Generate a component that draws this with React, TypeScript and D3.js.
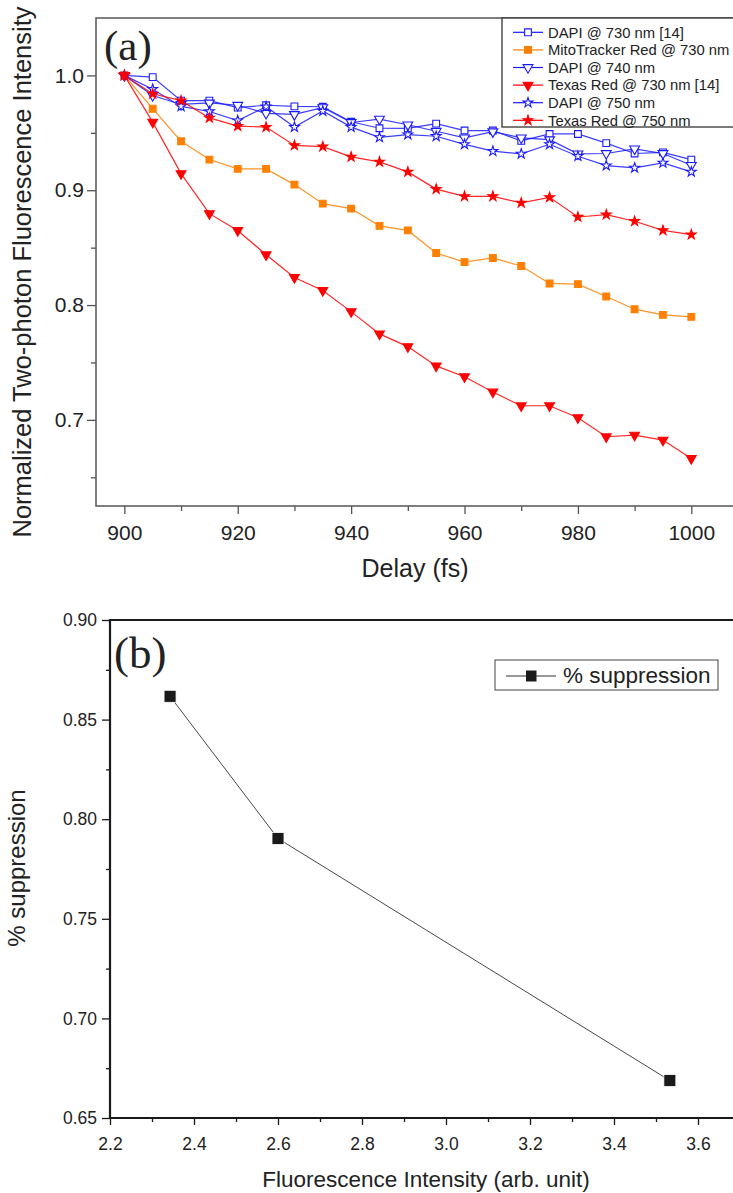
import React, { useEffect, useRef } from "react";
import * as d3 from "d3";

const WIDTH = 733;
const HEIGHT = 1193;
const SANS = "'Liberation Sans', Arial, Helvetica, sans-serif";
const SERIF = "'Liberation Serif', 'Times New Roman', serif";

// panel (a): delay in fs
const delays = [900, 905, 910, 915, 920, 925, 930, 935, 940, 945, 950, 955, 960, 965, 970, 975, 980, 985, 990, 995, 1000];
const dapi730 = [1.0, 0.9985, 0.978, 0.978, 0.972, 0.974, 0.973, 0.9727, 0.9596, 0.954, 0.9538, 0.958, 0.952, 0.952, 0.943, 0.949, 0.949, 0.941, 0.932, 0.933, 0.9267];
const mito730 = [1.0, 0.971, 0.9427, 0.9267, 0.9186, 0.9186, 0.9049, 0.8883, 0.884, 0.869, 0.865, 0.8453, 0.8374, 0.841, 0.834, 0.8188, 0.8182, 0.8075, 0.7964, 0.7914, 0.7897];
const dapi740 = [1.0, 0.9825, 0.9747, 0.976, 0.974, 0.967, 0.966, 0.972, 0.959, 0.962, 0.957, 0.9514, 0.9456, 0.951, 0.9456, 0.944, 0.9317, 0.932, 0.936, 0.932, 0.9217];
const texas730 = [1.0, 0.9593, 0.9145, 0.8796, 0.865, 0.8438, 0.824, 0.8127, 0.7943, 0.7749, 0.7638, 0.747, 0.7376, 0.7243, 0.7123, 0.7123, 0.7019, 0.6853, 0.6867, 0.6824, 0.6664];
const dapi750 = [1.0, 0.988, 0.973, 0.9686, 0.9607, 0.9727, 0.955, 0.969, 0.955, 0.946, 0.9485, 0.947, 0.94, 0.934, 0.9317, 0.94, 0.9296, 0.9215, 0.9195, 0.9238, 0.916];
const texas750 = [1.0, 0.984, 0.978, 0.963, 0.9558, 0.955, 0.939, 0.938, 0.929, 0.9247, 0.916, 0.901, 0.8947, 0.8947, 0.889, 0.8938, 0.8767, 0.8787, 0.873, 0.865, 0.8613];

const seriesNames = [
  "DAPI @ 730 nm [14]",
  "MitoTracker Red @ 730 nm",
  "DAPI @ 740 nm",
  "Texas Red @ 730 nm [14]",
  "DAPI @ 750 nm",
  "Texas Red @ 750 nm",
];
const seriesValues = [dapi730, mito730, dapi740, texas730, dapi750, texas750];
const seriesColors = ["#1a1aff", "#ff8000", "#1a1aff", "#ff0000", "#1a1aff", "#ff0000"];
const seriesShapes = ["square", "square", "triangle", "triangle", "star", "star"];
const seriesFilled = [false, true, false, true, false, true];

const topXMajor = [900, 920, 940, 960, 980, 1000];
const topXMinor = [910, 930, 950, 970, 990];
const topYMajor = [0.7, 0.8, 0.9, 1.0];
const topYMinor = [0.65, 0.75, 0.85, 0.95];

// panel (b)
const intensity = [2.343, 2.6, 3.533];
const suppression = [0.8617, 0.7903, 0.6688];
const botXMajor = [2.2, 2.4, 2.6, 2.8, 3.0, 3.2, 3.4, 3.6];
const botXMinor = [2.3, 2.5, 2.7, 2.9, 3.1, 3.3, 3.5];
const botYMajor = [0.65, 0.7, 0.75, 0.8, 0.85, 0.9];
const botYMinor = [0.675, 0.725, 0.775, 0.825, 0.875];

const TOP = { LEFT: 96, RIGHT: 748, TOP: 18, BOTTOM: 506 };
const BOT = { LEFT: 110, RIGHT: 740, TOP: 620, BOTTOM: 1118 };

const shapePath = (shape, size) => {
  const type = shape === "square" ? d3.symbolSquare : shape === "triangle" ? d3.symbolTriangle : d3.symbolStar;
  return d3.symbol(type, size)();
};
const shapeSize = { square: 46, triangle: 42, star: 30 };

const styleAxis = (g, fontSize, color) => {
  g.select(".domain").remove();
  g.selectAll("line").attr("stroke", color).attr("stroke-width", 1.3);
  g.selectAll("text").attr("fill", "#222").attr("font-size", fontSize).attr("font-family", SANS);
};

const App = () => {
  const svgRef = useRef(null);

  useEffect(() => {
    const svg = d3.select(svgRef.current);
    svg.selectAll("*").remove();

    // ---------- panel (a) ----------
    const xTop = d3.scaleLinear().domain([895, 1010]).range([TOP.LEFT, TOP.RIGHT]);
    const yTop = d3.scaleLinear().domain([0.625, 1.05]).range([TOP.BOTTOM, TOP.TOP]);
    const axisGray = "#555";

    const gx = svg.append("g").attr("transform", `translate(0,${TOP.BOTTOM})`);
    gx.call(d3.axisBottom(xTop).tickValues(topXMajor).tickSize(8).tickPadding(11).tickFormat(d3.format("d")));
    styleAxis(gx, 21, axisGray);
    const gxm = svg.append("g").attr("transform", `translate(0,${TOP.BOTTOM})`);
    gxm.call(d3.axisBottom(xTop).tickValues(topXMinor).tickSize(5).tickFormat(() => ""));
    styleAxis(gxm, 21, axisGray);

    const gy = svg.append("g").attr("transform", `translate(${TOP.LEFT},0)`);
    gy.call(d3.axisLeft(yTop).tickValues(topYMajor).tickSize(9).tickPadding(3).tickFormat(d3.format(".1f")));
    styleAxis(gy, 21, axisGray);
    const gym = svg.append("g").attr("transform", `translate(${TOP.LEFT},0)`);
    gym.call(d3.axisLeft(yTop).tickValues(topYMinor).tickSize(5).tickFormat(() => ""));
    styleAxis(gym, 21, axisGray);

    svg
      .append("path")
      .attr("d", `M${WIDTH},${TOP.TOP}H${TOP.LEFT}V${TOP.BOTTOM}H${WIDTH}`)
      .attr("fill", "none")
      .attr("stroke", axisGray)
      .attr("stroke-width", 1.5);

    const line = d3
      .line()
      .x((d) => xTop(d[0]))
      .y((d) => yTop(d[1]));

    seriesValues.forEach((values, i) => {
      const pts = values.map((v, j) => [delays[j], v]);
      const g = svg.append("g");
      g.append("path")
        .attr("d", line(pts))
        .attr("fill", "none")
        .attr("stroke", seriesColors[i])
        .attr("stroke-opacity", 0.85)
        .attr("stroke-width", 1.2);
      g.selectAll("path.mk")
        .data(pts)
        .join("path")
        .attr("class", "mk")
        .attr("d", shapePath(seriesShapes[i], shapeSize[seriesShapes[i]]))
        .attr(
          "transform",
          (d) => `translate(${xTop(d[0])},${yTop(d[1])})${seriesShapes[i] === "triangle" ? " rotate(180)" : ""}`
        )
        .attr("fill", seriesFilled[i] ? seriesColors[i] : "#fff")
        .attr("stroke", seriesColors[i])
        .attr("stroke-width", 1.1);
    });

    // legend (a)
    svg
      .append("rect")
      .attr("x", 502)
      .attr("y", TOP.TOP)
      .attr("width", 260)
      .attr("height", 109)
      .attr("fill", "#fff")
      .attr("stroke", "#333")
      .attr("stroke-width", 1.3);
    seriesNames.forEach((name, i) => {
      const cy = 32.3 + i * 17.6;
      const lg = svg.append("g");
      lg.append("line")
        .attr("x1", 513)
        .attr("x2", 543)
        .attr("y1", cy)
        .attr("y2", cy)
        .attr("stroke", seriesColors[i])
        .attr("stroke-width", 1.2);
      lg.append("path")
        .attr("d", shapePath(seriesShapes[i], shapeSize[seriesShapes[i]]))
        .attr("transform", `translate(528,${cy})${seriesShapes[i] === "triangle" ? " rotate(180)" : ""}`)
        .attr("fill", seriesFilled[i] ? seriesColors[i] : "#fff")
        .attr("stroke", seriesColors[i])
        .attr("stroke-width", 1.1);
      lg.append("text")
        .attr("x", 548)
        .attr("y", cy + 5.3)
        .attr("font-family", SANS)
        .attr("font-size", 14.8)
        .attr("fill", "#222")
        .text(name);
    });

    svg
      .append("text")
      .attr("x", 104)
      .attr("y", 60)
      .attr("font-family", SERIF)
      .attr("font-size", 43)
      .attr("fill", "#222")
      .text("(a)");

    svg
      .append("text")
      .attr("transform", "translate(31,272) rotate(-90)")
      .attr("text-anchor", "middle")
      .attr("font-family", SANS)
      .attr("font-size", 25.5)
      .attr("fill", "#222")
      .text("Normalized Two-photon Fluorescence Intensity");

    svg
      .append("text")
      .attr("x", 415)
      .attr("y", 577)
      .attr("text-anchor", "middle")
      .attr("font-family", SANS)
      .attr("font-size", 25)
      .attr("fill", "#222")
      .text("Delay (fs)");

    // ---------- panel (b) ----------
    const xBot = d3.scaleLinear().domain([2.2, 3.7]).range([BOT.LEFT, BOT.RIGHT]);
    const yBot = d3.scaleLinear().domain([0.65, 0.9]).range([BOT.BOTTOM, BOT.TOP]);
    const axisDark = "#1a1a1a";

    const bx = svg.append("g").attr("transform", `translate(0,${BOT.BOTTOM})`);
    bx.call(d3.axisBottom(xBot).tickValues(botXMajor).tickSize(7).tickPadding(13).tickFormat(d3.format(".1f")));
    styleAxis(bx, 17.5, axisDark);
    const bxm = svg.append("g").attr("transform", `translate(0,${BOT.BOTTOM})`);
    bxm.call(d3.axisBottom(xBot).tickValues(botXMinor).tickSize(4).tickFormat(() => ""));
    styleAxis(bxm, 17.5, axisDark);

    const by = svg.append("g").attr("transform", `translate(${BOT.LEFT},0)`);
    by.call(d3.axisLeft(yBot).tickValues(botYMajor).tickSize(8).tickPadding(5).tickFormat(d3.format(".2f")));
    styleAxis(by, 17.5, axisDark);
    const bym = svg.append("g").attr("transform", `translate(${BOT.LEFT},0)`);
    bym.call(d3.axisLeft(yBot).tickValues(botYMinor).tickSize(4).tickFormat(() => ""));
    styleAxis(bym, 17.5, axisDark);

    svg
      .append("path")
      .attr("d", `M${WIDTH},${BOT.TOP}H${BOT.LEFT}V${BOT.BOTTOM}H${WIDTH}`)
      .attr("fill", "none")
      .attr("stroke", axisDark)
      .attr("stroke-width", 2.2);

    const pts2 = intensity.map((v, i) => [v, suppression[i]]);
    svg
      .append("path")
      .attr(
        "d",
        d3
          .line()
          .x((d) => xBot(d[0]))
          .y((d) => yBot(d[1]))(pts2)
      )
      .attr("fill", "none")
      .attr("stroke", "#333")
      .attr("stroke-width", 0.9);
    svg
      .selectAll("rect.pt")
      .data(pts2)
      .join("rect")
      .attr("class", "pt")
      .attr("x", (d) => xBot(d[0]) - 6)
      .attr("y", (d) => yBot(d[1]) - 6)
      .attr("width", 12)
      .attr("height", 12)
      .attr("fill", "#1a1a1a")
      .attr("stroke", "#fff")
      .attr("stroke-width", 0.8);

    // legend (b)
    svg
      .append("rect")
      .attr("x", 495)
      .attr("y", 660)
      .attr("width", 223)
      .attr("height", 30)
      .attr("fill", "#fff")
      .attr("stroke", "#444")
      .attr("stroke-width", 1);
    svg
      .append("line")
      .attr("x1", 506)
      .attr("x2", 556)
      .attr("y1", 676)
      .attr("y2", 676)
      .attr("stroke", "#333")
      .attr("stroke-width", 1);
    svg
      .append("rect")
      .attr("x", 526)
      .attr("y", 670.5)
      .attr("width", 10.5)
      .attr("height", 11)
      .attr("fill", "#1a1a1a");
    svg
      .append("text")
      .attr("x", 563)
      .attr("y", 683)
      .attr("font-family", SANS)
      .attr("font-size", 22.5)
      .attr("fill", "#222")
      .text("% suppression");

    svg
      .append("text")
      .attr("x", 114)
      .attr("y", 668)
      .attr("font-family", SERIF)
      .attr("font-size", 45)
      .attr("fill", "#222")
      .text("(b)");

    svg
      .append("text")
      .attr("transform", "translate(25,868) rotate(-90)")
      .attr("text-anchor", "middle")
      .attr("font-family", SANS)
      .attr("font-size", 24)
      .attr("fill", "#222")
      .text("% suppression");

    svg
      .append("text")
      .attr("x", 426)
      .attr("y", 1187)
      .attr("text-anchor", "middle")
      .attr("font-family", SANS)
      .attr("font-size", 22.5)
      .attr("fill", "#222")
      .text("Fluorescence Intensity (arb. unit)");
  }, []);

  return (
    <svg
      ref={svgRef}
      width={WIDTH}
      height={HEIGHT}
      style={{ position: "absolute", left: 0, top: 0, background: "#fff" }}
    ></svg>
  );
};

export default App;
